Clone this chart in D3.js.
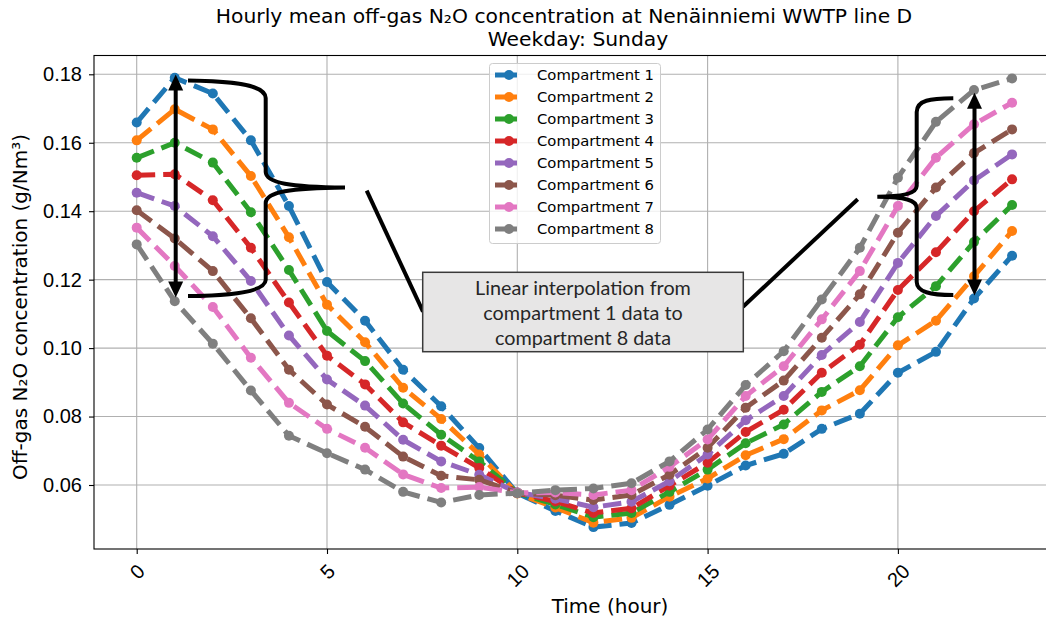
<!DOCTYPE html>
<html>
<head>
<meta charset="utf-8">
<script src="https://cdn.jsdelivr.net/npm/d3@7"></script>
<style>
  html, body { margin: 0; padding: 0; background: #ffffff; }
  svg { display: block; font-family: "DejaVu Sans", sans-serif; }
</style>
</head>
<body>
<div id="chart"></div>
<script>
// hours 0..23
const hours = d3.range(0, 24);

const c1 = [0.1659, 0.1790, 0.1744, 0.1607, 0.1415, 0.1193, 0.1080, 0.0937, 0.0830, 0.0708, 0.0576, 0.0524,
            0.0477, 0.0489, 0.0542, 0.0598, 0.0657, 0.0691, 0.0764, 0.0808, 0.0928, 0.0989, 0.1145, 0.1270];
const c2 = [0.1607, 0.1698, 0.1639, 0.1503, 0.1324, 0.1127, 0.1017, 0.0884, 0.0793, 0.0689, 0.0575, 0.0534,
            0.0490, 0.0504, 0.0566, 0.0619, 0.0687, 0.0734, 0.0818, 0.0877, 0.1008, 0.1080, 0.1210, 0.1342];
const c3 = [0.1556, 0.1600, 0.1542, 0.1397, 0.1228, 0.1050, 0.0962, 0.0838, 0.0747, 0.0669, 0.0577, 0.0543,
            0.0506, 0.0518, 0.0580, 0.0645, 0.0722, 0.0777, 0.0872, 0.0947, 0.1090, 0.1181, 0.1310, 0.1418];
const c4 = [0.1505, 0.1508, 0.1432, 0.1293, 0.1133, 0.0978, 0.0894, 0.0783, 0.0715, 0.0650, 0.0577, 0.0552,
            0.0518, 0.0532, 0.0598, 0.0665, 0.0755, 0.0820, 0.0928, 0.1010, 0.1170, 0.1280, 0.1400, 0.1493];
const c5 = [0.1454, 0.1415, 0.1327, 0.1196, 0.1037, 0.0908, 0.0832, 0.0732, 0.0669, 0.0630, 0.0578, 0.0560,
            0.0535, 0.0551, 0.0611, 0.0689, 0.0789, 0.0860, 0.0980, 0.1076, 0.1249, 0.1386, 0.1490, 0.1566];
const c6 = [0.1403, 0.1320, 0.1225, 0.1087, 0.0937, 0.0835, 0.0770, 0.0683, 0.0627, 0.0615, 0.0577, 0.0570,
            0.0556, 0.0571, 0.0630, 0.0709, 0.0826, 0.0905, 0.1030, 0.1157, 0.1337, 0.1469, 0.1570, 0.1639];
const c7 = [0.1352, 0.1240, 0.1120, 0.0972, 0.0840, 0.0764, 0.0709, 0.0631, 0.0591, 0.0594, 0.0577, 0.0578,
            0.0571, 0.0585, 0.0653, 0.0733, 0.0860, 0.0947, 0.1084, 0.1225, 0.1415, 0.1556, 0.1654, 0.1717];
const c8 = [0.1303, 0.1137, 0.1013, 0.0876, 0.0744, 0.0693, 0.0645, 0.0580, 0.0549, 0.0571, 0.0576, 0.0585,
            0.0590, 0.0605, 0.0669, 0.0762, 0.0892, 0.0991, 0.1142, 0.1293, 0.1498, 0.1661, 0.1754, 0.1788];

const seriesNames = ["Compartment 1", "Compartment 2", "Compartment 3", "Compartment 4",
                     "Compartment 5", "Compartment 6", "Compartment 7", "Compartment 8"];
const seriesValues = [c1, c2, c3, c4, c5, c6, c7, c8];
const colors = ["#1f77b4", "#ff7f0e", "#2ca02c", "#d62728", "#9467bd", "#8c564b", "#e377c2", "#7f7f7f"];

const xTicks = [0, 5, 10, 15, 20];
const yTicks = [0.06, 0.08, 0.10, 0.12, 0.14, 0.16, 0.18];

const W = 1046, H = 623;
const plot = { left: 94, right: 1056, top: 55.5, bottom: 549 };

const svg = d3.select("#chart").append("svg")
    .attr("width", W)
    .attr("height", H)
    .attr("viewBox", `0 0 ${W} ${H}`);

const x = d3.scaleLinear().domain([0, 23]).range([136.7, 136.7 + 23 * 38.06]);
const y = d3.scaleLinear().domain([0.06, 0.18]).range([485, 74.3]);

svg.append("defs").append("clipPath").attr("id", "clip")
  .append("rect")
    .attr("x", plot.left).attr("y", plot.top)
    .attr("width", plot.right - plot.left).attr("height", plot.bottom - plot.top);

// grid
const grid = svg.append("g").attr("stroke", "#b0b0b0").attr("stroke-width", 1.1);
grid.selectAll(".gx").data(xTicks).enter().append("line")
    .attr("x1", d => x(d)).attr("x2", d => x(d))
    .attr("y1", plot.top).attr("y2", plot.bottom);
grid.selectAll(".gy").data(yTicks).enter().append("line")
    .attr("x1", plot.left).attr("x2", plot.right)
    .attr("y1", d => y(d)).attr("y2", d => y(d));

// series
const line = d3.line().x((d, i) => x(hours[i])).y(d => y(d));
const lines = svg.append("g").attr("clip-path", "url(#clip)");

seriesValues.forEach((vals, k) => {
    const g = lines.append("g");
    g.append("path")
        .datum(vals)
        .attr("d", line)
        .attr("fill", "none")
        .attr("stroke", colors[k])
        .attr("stroke-width", 5)
        .attr("stroke-dasharray", "18.5,8");
    g.selectAll("circle")
        .data(vals)
        .enter().append("circle")
        .attr("cx", (d, i) => x(hours[i]))
        .attr("cy", d => y(d))
        .attr("r", 5)
        .attr("fill", colors[k]);
});

// axes
const xAxis = d3.axisBottom(x).tickValues(xTicks).tickSize(5).tickPadding(5).tickFormat(d3.format("d"));
const yAxis = d3.axisLeft(y).tickValues(yTicks).tickSize(5).tickPadding(7).tickFormat(d3.format(".2f"));

const gx = svg.append("g").attr("transform", `translate(0,${plot.bottom})`).call(xAxis);
gx.select(".domain").remove();
gx.selectAll(".tick line").attr("stroke", "#000").attr("stroke-width", 1.1);
gx.selectAll(".tick text")
    .attr("font-size", 20)
    .attr("fill", "#000")
    .attr("y", 0)
    .attr("dy", "0.35em")
    .attr("text-anchor", "middle")
    .attr("transform", function () {
        const w = this.getComputedTextLength();
        const h = 23;
        const off = 10.5 + (w + h) * Math.SQRT1_2 / 2;
        return `translate(0,${off}) rotate(-45)`;
    });

const gy = svg.append("g").attr("transform", `translate(${plot.left},0)`).call(yAxis);
gy.select(".domain").remove();
gy.selectAll(".tick line").attr("stroke", "#000").attr("stroke-width", 1.1);
gy.selectAll(".tick text").attr("font-size", 20).attr("fill", "#000");

// spines
svg.append("rect")
    .attr("x", plot.left).attr("y", plot.top)
    .attr("width", plot.right - plot.left).attr("height", plot.bottom - plot.top)
    .attr("fill", "none").attr("stroke", "#000").attr("stroke-width", 1.1);

// labels
svg.append("text")
    .attr("x", 610).attr("y", 613)
    .attr("text-anchor", "middle").attr("font-size", 20)
    .text("Time (hour)");

svg.append("text")
    .attr("transform", "translate(27,307) rotate(-90)")
    .attr("text-anchor", "middle").attr("font-size", 20)
    .text("Off-gas N₂O concentration (g/Nm³)");

svg.append("text")
    .attr("x", 564).attr("y", 23)
    .attr("text-anchor", "middle").attr("font-size", 20.3)
    .text("Hourly mean off-gas N₂O concentration at Nenäinniemi WWTP line D");
svg.append("text")
    .attr("x", 578).attr("y", 46)
    .attr("text-anchor", "middle").attr("font-size", 20.3)
    .text("Weekday: Sunday");

// legend
const legend = svg.append("g");
legend.append("rect")
    .attr("x", 489.5).attr("y", 63.5)
    .attr("width", 171).attr("height", 180)
    .attr("rx", 3)
    .attr("fill", "#ffffff").attr("fill-opacity", 0.8)
    .attr("stroke", "#cccccc").attr("stroke-width", 1);
const legendRow = d3.scaleLinear().domain([0, 7]).range([75, 229]);
seriesNames.forEach((name, k) => {
    const ly = legendRow(k);
    legend.append("line")
        .attr("x1", 495).attr("x2", 517)
        .attr("y1", ly).attr("y2", ly)
        .attr("stroke", colors[k]).attr("stroke-width", 5);
    legend.append("circle")
        .attr("cx", 509).attr("cy", ly).attr("r", 5)
        .attr("fill", colors[k]);
    legend.append("text")
        .attr("x", 537).attr("y", ly + 5.3)
        .attr("font-size", 14.8)
        .text(name);
});

// annotations
const ann = svg.append("g").attr("fill", "none").attr("stroke", "#000")
    .attr("stroke-width", 4).attr("stroke-linecap", "butt");

function arrowHead(px, py, dir) {
    // dir = -1 points up, +1 points down
    svg.append("path")
        .attr("d", `M${px},${py} L${px - 7.5},${py - dir * 16} L${px + 7.5},${py - dir * 16} Z`)
        .attr("fill", "#000");
}

// left double arrow
ann.append("line").attr("x1", 175.7).attr("x2", 175.7).attr("y1", 88).attr("y2", 284);
arrowHead(175.7, 74.5, -1);
arrowHead(175.7, 297.5, 1);

// left brace
ann.append("path").attr("d",
    "M188,80.5 C230,81 265,84 265.7,98 L265.7,172 C266,183 290,187 345,187.5 " +
    "M345,187.5 C290,188 266,192 265.7,203 L265.7,280 C265,292 230,296 188,296");

// connector lines
ann.append("line").attr("x1", 366.7).attr("y1", 190.7).attr("x2", 423).attr("y2", 311.7);
ann.append("line").attr("x1", 743).attr("y1", 306.7).attr("x2", 857.7).attr("y2", 199.3);

// right double arrow
ann.append("line").attr("x1", 974.5).attr("x2", 974.5).attr("y1", 106).attr("y2", 282);
arrowHead(974.5, 92.7, -1);
arrowHead(974.5, 295.5, 1);

// right brace
ann.append("path").attr("d",
    "M953.3,98.3 C930,98.5 917,100 916.7,112 L916.7,186 C916.5,193 905,196.5 877.3,196.7 " +
    "M877.3,196.7 C905,197 916.5,200 916.7,208 L916.7,282 C917,292 930,295 953.3,295");

// text box
const box = svg.append("g");
box.append("rect")
    .attr("x", 422.7).attr("y", 272.3)
    .attr("width", 320.6).attr("height", 79.4)
    .attr("fill", "#e7e6e6").attr("stroke", "#3a3a3a").attr("stroke-width", 1.5);
const boxLines = ["Linear interpolation from", "compartment 1 data to", "compartment 8 data"];
box.selectAll("text").data(boxLines).enter().append("text")
    .attr("x", 583).attr("y", (d, i) => 294.5 + i * 25)
    .attr("text-anchor", "middle")
    .attr("font-family", "Lato, 'Open Sans', sans-serif")
    .attr("font-size", 19.8)
    .attr("fill", "#262626")
    .text(d => d);
</script>
</body>
</html>
